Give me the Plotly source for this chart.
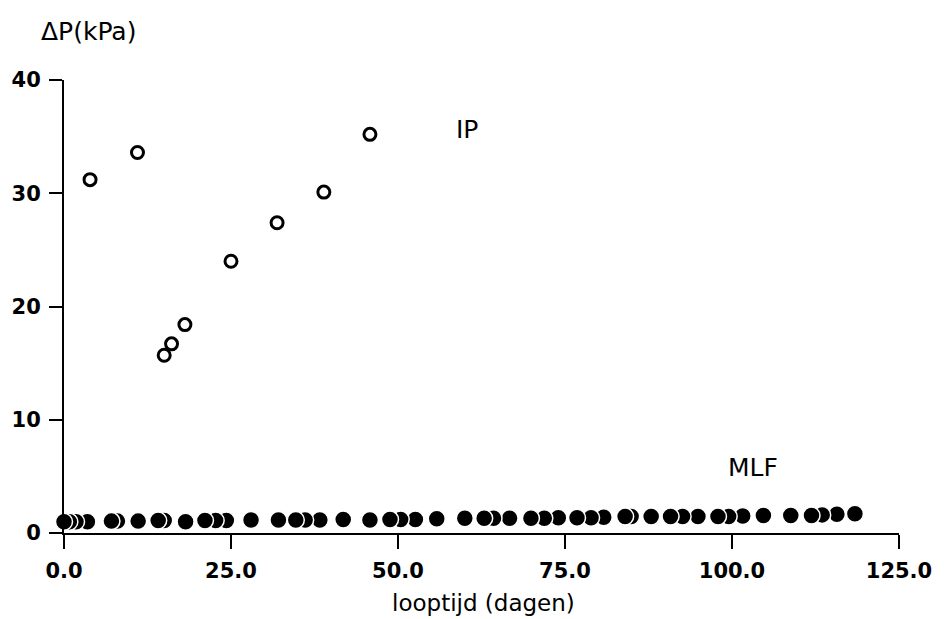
import plotly.graph_objects as go

# IP series (open circles)
ip_days = [3.9, 11.0, 15.0, 16.1, 18.1, 25.0, 31.9, 38.9, 45.8]
ip_dp = [31.2, 33.6, 15.7, 16.7, 18.4, 24.0, 27.4, 30.1, 35.2]

# MLF series (filled circles)
mlf_days = [0.0, 0.8, 1.8, 3.5, 7.1, 8.0, 11.1, 14.1, 15.0, 18.2, 21.1, 22.7, 24.3,
            28.0, 32.1, 34.7, 36.1, 38.3, 41.8, 45.8, 48.8, 50.4, 52.6, 55.8, 60.0,
            62.9, 64.3, 66.7, 69.9, 71.9, 74.0, 76.8, 78.9, 80.8, 84.0, 84.9, 87.9,
            90.8, 92.6, 94.9, 97.9, 99.5, 101.6, 104.7, 108.8, 111.9, 113.5, 115.7, 118.4]
mlf_dp = [1.0, 1.0, 1.0, 1.0, 1.05, 1.05, 1.05, 1.1, 1.1, 1.0, 1.1, 1.1, 1.1,
          1.15, 1.15, 1.15, 1.15, 1.15, 1.2, 1.15, 1.2, 1.2, 1.2, 1.25, 1.3,
          1.3, 1.3, 1.3, 1.3, 1.3, 1.35, 1.35, 1.35, 1.4, 1.45, 1.45, 1.45,
          1.45, 1.45, 1.45, 1.45, 1.45, 1.5, 1.55, 1.55, 1.55, 1.6, 1.65, 1.7]

x_ticks = [0, 25, 50, 75, 100, 125]
y_ticks = [0, 10, 20, 30, 40]

FONT = "DejaVu Sans"
TICKFONT = dict(family=FONT, size=21, color="black", weight="bold")
TEXTFONT = dict(family=FONT, size=25, color="black")

fig = go.Figure()
fig.add_trace(go.Scatter(
    x=mlf_days[::-1], y=mlf_dp[::-1], mode="markers", cliponaxis=False,
    marker=dict(symbol="circle", size=17, color="black",
                line=dict(color="white", width=1.5)),
    showlegend=False))
fig.add_trace(go.Scatter(
    x=ip_days, y=ip_dp, mode="markers", cliponaxis=False,
    marker=dict(symbol="circle-open", size=12, color="black",
                line=dict(color="black", width=3)),
    showlegend=False))

fig.update_layout(
    width=944, height=619,
    margin=dict(l=62, r=42, t=80, b=86),
    paper_bgcolor="white", plot_bgcolor="white",
    font=dict(family=FONT, size=19, color="black"),
    xaxis=dict(range=[0, 125], tickvals=x_ticks,
               ticktext=[f"{v:.1f}" for v in x_ticks],
               showline=True, linecolor="black", linewidth=2,
               ticks="outside", ticklen=14, tickwidth=2, tickcolor="black",
               ticklabelstandoff=4,
               showgrid=False, zeroline=False, tickfont=TICKFONT),
    yaxis=dict(range=[0, 40], tickvals=y_ticks,
               showline=True, linecolor="black", linewidth=2,
               ticks="outside", ticklen=13, tickwidth=2, tickcolor="black",
               ticklabelstandoff=4,
               showgrid=False, zeroline=False, tickfont=TICKFONT),
    annotations=[
        dict(text="ΔP(kPa)", xref="paper", yref="paper", x=-0.03, y=1.107,
             xanchor="left", yanchor="middle", showarrow=False, font=TEXTFONT),
        dict(text="looptijd (dagen)", xref="paper", yref="paper", x=0.502, y=-0.154,
             xanchor="center", yanchor="middle", showarrow=False,
             font=dict(family=FONT, size=23, color="black")),
        dict(text="IP", x=60.4, y=35.6, xanchor="center", yanchor="middle",
             showarrow=False, font=TEXTFONT),
        dict(text="MLF", x=103.1, y=5.8, xanchor="center", yanchor="middle",
             showarrow=False, font=TEXTFONT),
    ],
)

fig.write_html("out.html")
